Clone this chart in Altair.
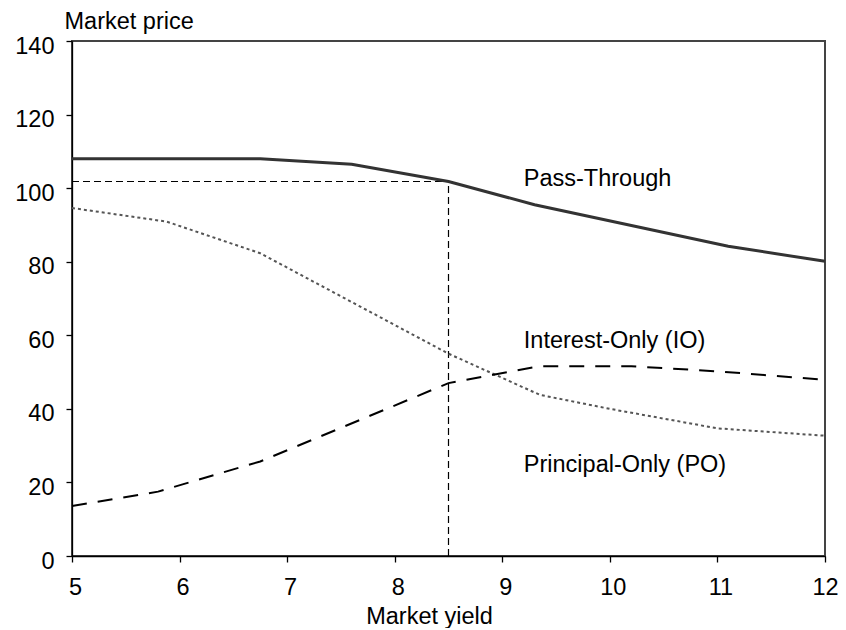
import altair as alt
import pandas as pd

# ---- data ----
pt_yield = [5, 6.75, 7.6, 8.5, 9.3, 11.1, 12]
pt_price = [108, 108, 106.5, 101.8, 95.5, 84.2, 80.1]

io_yield = [5, 5.8, 6.75, 8.5, 9.35, 10.2, 11, 12]
io_price = [13.6, 17.5, 25.7, 47, 51.6, 51.6, 50.2, 47.9]

po_yield = [5, 5.88, 6.75, 8.5, 9.35, 10, 11, 12]
po_price = [94.6, 90.9, 82.3, 55, 43.8, 40, 34.7, 32.7]

ref_yield = 8.5
ref_price = 101.8

labels = ["Pass-Through", "Interest-Only (IO)", "Principal-Only (PO)"]
label_x = [9.2, 9.2, 9.2]
label_y = [100.5, 56.5, 22.9]

x_ticks = [5, 6, 7, 8, 9, 10, 11, 12]
y_ticks = [0, 20, 40, 60, 80, 100, 120, 140]

FONT = "Liberation Sans"
FS = 23.5

# ---- tables ----
pt = pd.DataFrame({"yield": pt_yield, "price": pt_price})
io = pd.DataFrame({"yield": io_yield, "price": io_price})
po = pd.DataFrame({"yield": po_yield, "price": po_price})
hline = pd.DataFrame({"x": [x_ticks[0]], "x2": [ref_yield], "y": [ref_price]})
vline = pd.DataFrame({"x": [ref_yield], "y": [y_ticks[0]], "y2": [ref_price]})
lab = pd.DataFrame({"x": label_x, "y": label_y, "text": labels})

xscale = alt.Scale(domain=[5, 12], nice=False, zero=False)
yscale = alt.Scale(domain=[0, 140], nice=False)

xaxis = alt.Axis(
    values=x_ticks, title="Market yield", titleX=357, titleY=67,
    titleAlign="center", titleBaseline="alphabetic", labelPadding=13,
    tickSize=6, labelFlush=False,
    labelOffset={"condition": {"test": "datum.value == 12", "value": 0}, "value": 3},
)
yaxis = alt.Axis(
    values=y_ticks, title="Market price", titleAngle=0, titleX=-8, titleY=-13,
    titleAlign="left", titleBaseline="alphabetic", labelPadding=12,
    tickSize=6, labelOffset=5,
)

base_x = alt.X("yield:Q", scale=xscale, axis=xaxis)
base_y = alt.Y("price:Q", scale=yscale, axis=yaxis)

h = alt.Chart(hline).mark_rule(color="black", strokeWidth=1.2, strokeDash=[7, 4]).encode(
    x=alt.X("x:Q", scale=xscale, axis=xaxis), x2="x2:Q",
    y=alt.Y("y:Q", scale=yscale, axis=yaxis),
)
v = alt.Chart(vline).mark_rule(color="black", strokeWidth=1.2, strokeDash=[7, 4]).encode(
    x=alt.X("x:Q", scale=xscale, axis=xaxis),
    y=alt.Y("y:Q", scale=yscale, axis=yaxis), y2="y2:Q",
)

po_line = alt.Chart(po).mark_line(color="#555555", strokeWidth=2, strokeDash=[3, 3]).encode(
    x=base_x, y=base_y
)
io_line = alt.Chart(io).mark_line(color="black", strokeWidth=2, strokeDash=[15, 11]).encode(
    x=base_x, y=base_y
)
pt_line = alt.Chart(pt).mark_line(color="#333333", strokeWidth=3).encode(
    x=base_x, y=base_y
)

text = alt.Chart(lab).mark_text(
    align="left", baseline="alphabetic", fontSize=FS, font=FONT, color="black"
).encode(
    x=alt.X("x:Q", scale=xscale, axis=xaxis),
    y=alt.Y("y:Q", scale=yscale, axis=yaxis),
    text="text:N",
)

chart = (
    alt.layer(h, v, po_line, io_line, pt_line, text)
    .properties(
        width=753, height=515,
        autosize=alt.AutoSizeParams(type="none"),
        padding={"left": 64, "top": 33, "right": 13, "bottom": 72},
    )
    .configure_view(stroke="#444444", strokeWidth=2)
    .configure_axis(
        grid=False, labelFont=FONT, titleFont=FONT, labelFontSize=FS,
        titleFontSize=FS, titleFontWeight="normal", labelColor="black",
        titleColor="black", domainColor="black", tickColor="black",
        domainWidth=1.3, tickWidth=1.3,
    )
)

chart.save("out.html", embed_options={"renderer": "svg", "actions": False})
